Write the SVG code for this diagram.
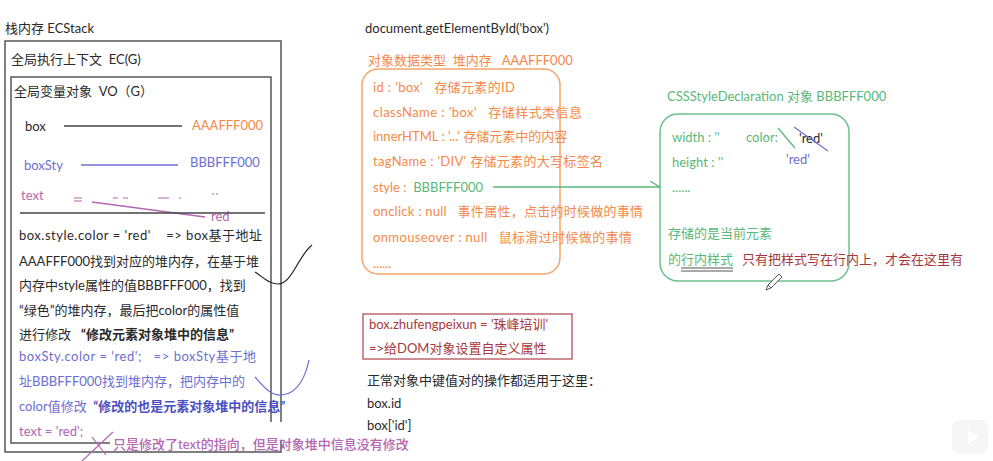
<svg xmlns="http://www.w3.org/2000/svg" width="993" height="461" viewBox="0 0 993 461">
<style>
text{font-family:Lato,"Noto Sans CJK SC",sans-serif;font-size:13px;fill:#333;white-space:pre}
.or{fill:#f5894a}
.bl{fill:#6c6fd0}
.pu{fill:#b466b0}
.gr{fill:#5ab878}
.rd{fill:#a8383c}
.dk{fill:#2a2a2a}
.b{font-weight:bold}
.frame{fill:none;stroke:#555;stroke-width:1.5}
</style>
<defs>
<marker id="openArrow" markerWidth="12" markerHeight="12" refX="10" refY="6" orient="auto" markerUnits="userSpaceOnUse">
<path d="M0,0 L10,6" fill="none" stroke="#5ab878" stroke-width="1.3"/>
</marker>
</defs>
<rect width="993" height="461" fill="#fff"/>

<g id="ecstack">
<text x="5" y="33" class="dk">栈内存 ECStack</text>
<path class="frame" d="M281,422 L281,41 L5,41 L5,452 L281,452 L281,441"/>
<text x="11" y="64" class="dk">全局执行上下文  EC(G)</text>
<path class="frame" d="M271,422 L271,77 L11,77 L11,443 L110,443"/>
<text x="14" y="96" class="dk">全局变量对象  VO（G）</text>
<text x="25" y="131" class="dk">box</text>
<text x="192" y="130" class="or">AAAFFF000</text>
<text x="24" y="170" class="bl">boxSty</text>
<text x="190" y="167" class="bl">BBBFFF000</text>
<text x="21" y="200" class="pu">text</text>
<path d="M74,198 h8 M74,201 h8 M113,198 h5 M123,198 h5 M158,198 h11 M179,198 h2 M212,194 h2 M216,194 h2" stroke="#b466b0" stroke-width="1.2" fill="none"/>
<path d="M92,202 L205,217" stroke="#b466b0" stroke-width="1.3" fill="none"/>
<text x="211" y="221" class="pu">red</text>
<path d="M20,213 H265" stroke="#444" stroke-width="1.3"/>
<text x="19" y="240" class="dk" textLength="243">box.style.color = 'red'    =&gt; box基于地址</text>
<text x="19" y="266" class="dk">AAAFFF000找到对应的堆内存，在基于堆</text>
<text x="19" y="290" class="dk">内存中style属性的值BBBFFF000，找到</text>
<text x="19" y="315" class="dk">“绿色”的堆内存，最后把color的属性值</text>
<text x="19" y="339" class="dk">进行修改   <tspan class="b">“修改元素对象堆中的信息”</tspan></text>
<text x="19" y="361" class="bl" textLength="237">boxSty.color = 'red';   =&gt; boxSty基于地</text>
<text x="19" y="386" class="bl">址BBBFFF000找到堆内存，把内存中的</text>
<text x="19" y="411" class="bl">color值修改  <tspan class="b" fill="#4b4fc0">“修改的也是元素对象堆中的信息”</tspan></text>
<text x="19" y="436" class="pu">text = 'red';</text>
<path d="M82,461 L113,432 M92,437 L106,455" stroke="#b466b0" stroke-width="1.2" fill="none"/>
<text x="113" y="449" class="pu" font-weight="500">只是修改了text的指向，但是对象堆中信息没有修改</text>
<path d="M255,272 C262,276 268,284 278,284 C292,284 298,256 312,245" stroke="#222" stroke-width="1.2" fill="none"/>
<path d="M255,377 C262,385 270,396 282,395 C298,394 306,375 309,360" stroke="#6c6fd0" stroke-width="1.2" fill="none"/>
</g>

<g id="heap-element">
<text x="365" y="33" class="dk">document.getElementById('box')</text>
<text x="368" y="65" class="or">对象数据类型  堆内存   AAAFFF000</text>
<rect x="362" y="69" width="198" height="205" rx="16" fill="none" stroke="#f5a56a" stroke-width="1.5"/>
<text x="373" y="92" class="or" textLength="142">id : 'box'   存储元素的ID</text>
<text x="373" y="117" class="or" textLength="209">className : 'box'   存储样式类信息</text>
<text x="373" y="141" class="or">innerHTML : '...' 存储元素中的内容</text>
<text x="373" y="166" class="or" textLength="230">tagName : 'DIV' 存储元素的大写标签名</text>
<text x="373" y="192" class="or">style :  <tspan class="gr">BBBFFF000</tspan></text>
<text x="373" y="216" class="or" textLength="270">onclick : null   事件属性，点击的时候做的事情</text>
<text x="373" y="242" class="or" textLength="259">onmouseover : null   鼠标滑过时候做的事情</text>
<text x="373" y="268" class="or">......</text>
</g>

<g id="custom-attr">
<rect x="363" y="314" width="209" height="45" fill="none" stroke="#b4505a" stroke-width="1.3"/>
<text x="369" y="329" class="rd">box.zhufengpeixun = '珠峰培训'</text>
<text x="369" y="353" class="rd">=&gt;给DOM对象设置自定义属性</text>
<text x="367" y="385" class="dk">正常对象中键值对的操作都适用于这里：</text>
<text x="367" y="408" class="dk">box.id</text>
<text x="367" y="430" class="dk">box['id']</text>
</g>

<g id="css-style">
<text x="667" y="101" class="gr">CSSStyleDeclaration 对象 BBBFFF000</text>
<rect x="660" y="114" width="189" height="167" rx="18" fill="none" stroke="#6cc08a" stroke-width="1.5"/>
<text x="672" y="142" class="gr">width : ''</text>
<text x="746" y="142" class="gr">color:</text>
<path d="M778,128 L795,148" stroke="#5ab878" stroke-width="1.2"/>
<text x="799" y="143" class="dk">'red'</text>
<path d="M794,127 L828,151" stroke="#6c6fd0" stroke-width="1.2"/>
<text x="672" y="167" class="gr">height : ''</text>
<text x="786" y="164" class="bl">'red'</text>
<text x="672" y="192" class="gr">......</text>
<text x="668" y="238" class="gr">存储的是当前元素</text>
<text x="668" y="264" class="gr">的行内样式</text>
<path d="M681,268 H733 M681,271 H733" stroke="#555" stroke-width="1.2"/>
<text x="742" y="264" class="rd">只有把样式写在行内上，才会在这里有</text>
<path d="M768,285 L779,274 L782,277 L771,288 Z M768,285 L766,290 L771,288" fill="#fff" stroke="#555" stroke-width="1"/>
</g>

<g id="connectors">
<path d="M64,126 H182" stroke="#444" stroke-width="1.3"/>
<path d="M81,165 H178" stroke="#6c6fd0" stroke-width="1.3"/>
<path d="M493,187 H660" stroke="#5ab878" stroke-width="1.3" fill="none" marker-end="url(#openArrow)"/>
</g>

<g id="watermark" opacity="0.25">
<rect x="952" y="420" width="36" height="34" rx="8" fill="#ddd"/>
<path d="M968,430 L980,437 L968,444 Z" fill="#fff"/>
</g>
</svg>
